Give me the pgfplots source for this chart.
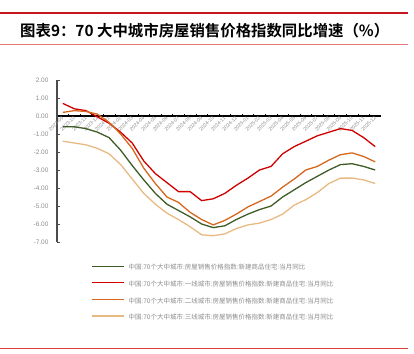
\documentclass[border=0pt]{standalone}
\usepackage{fontspec}
\setmainfont{Liberation Sans}
\newfontfamily\cjk{Noto Sans CJK SC}[BoldFont={* Bold}]
\usepackage{pgfplots}
\usepackage{pgfplotstable}
\pgfplotsset{compat=1.18}
\definecolor{cgreen}{RGB}{62,92,38}
\definecolor{cred}{RGB}{208,0,0}
\definecolor{corange}{RGB}{214,104,30}
\definecolor{ctan}{RGB}{232,186,130}
\definecolor{lblgray}{RGB}{140,140,140}
\definecolor{topred}{RGB}{200,20,30}
\definecolor{pinkline}{RGB}{232,120,120}
\definecolor{botred}{RGB}{222,60,60}
\pgfplotstableread{
i g r o t
0 -0.6 0.7 0.2 -1.4
1 -0.6 0.4 0.3 -1.5
2 -0.7 0.3 0.25 -1.6
3 -0.9 -0.05 0.1 -1.8
4 -1.2 -0.4 -0.35 -2.1
5 -1.9 -0.9 -1.0 -2.7
6 -2.75 -1.5 -1.8 -3.5
7 -3.55 -2.5 -2.9 -4.3
8 -4.3 -3.2 -3.75 -4.9
9 -4.9 -3.7 -4.5 -5.4
10 -5.25 -4.2 -4.8 -5.75
11 -5.6 -4.2 -5.35 -6.15
12 -6.0 -4.7 -5.75 -6.6
13 -6.2 -4.6 -6.05 -6.65
14 -6.1 -4.3 -5.8 -6.55
15 -5.75 -3.85 -5.45 -6.25
16 -5.45 -3.45 -5.05 -6.05
17 -5.2 -3.0 -4.75 -5.95
18 -5.0 -2.8 -4.45 -5.75
19 -4.5 -2.1 -3.95 -5.45
20 -4.1 -1.7 -3.5 -4.95
21 -3.7 -1.4 -3.0 -4.65
22 -3.35 -1.1 -2.8 -4.25
23 -3.0 -0.9 -2.45 -3.75
24 -2.7 -0.7 -2.15 -3.45
25 -2.65 -0.8 -2.05 -3.45
26 -2.8 -1.2 -2.25 -3.55
27 -3.0 -1.7 -2.55 -3.75
}\data
\begin{document}
\begin{tikzpicture}
\useasboundingbox (0pt,0pt) rectangle (414pt,-353pt);
\draw[topred, line width=2pt] (0pt,-13pt) -- (408pt,-13pt);
\draw[pinkline, line width=0.8pt] (0pt,-44.5pt) -- (408pt,-44.5pt);
\draw[botred, line width=0.8pt] (0pt,-348pt) -- (408pt,-348pt);
\node[anchor=west, inner sep=0pt] at (20pt,-31pt) {\cjk\bfseries\fontsize{15.4}{18}\selectfont 图表9：70 大中城市房屋销售价格指数同比增速（\%）};
\begin{axis}[
  at={(57pt,-242pt)}, anchor=south west,
  scale only axis, width=324pt, height=162pt,
  xmin=-0.5, xmax=27.5, ymin=-7, ymax=2,
  axis x line=middle, axis y line=left,
  axis line style={-},
  x axis line style={black, line width=1.2pt},
  y axis line style={black!70, line width=1.2pt},
  hide obscured x ticks=false,
  tick align=inside,
  major tick length=2.5pt, minor tick length=2.5pt,
  xtick={0,...,27},
  minor xtick={0.5,1.5,...,26.5},
  major x tick style={draw=none},
  minor x tick style={black, line width=0.6pt},
  xticklabels={2023-09,2023-10,2023-11,2023-12,2024-01,2024-02,2024-03,2024-04,2024-05,2024-06,2024-07,2024-08,2024-09,2024-10,2024-11,2024-12,2025-01,2025-02,2025-03,2025-04,2025-05,2025-06,2025-07,2025-08,2025-09,2025-10,2025-11,2025-12},
  xticklabel style={rotate=45, anchor=east, font=\fontsize{5}{6}\selectfont, text=lblgray, inner sep=1pt, yshift=-1pt},
  ytick={-7,...,2},
  y tick style={black!70, line width=0.6pt},
  /pgf/number format/assume math mode=true,
  yticklabel style={/pgf/number format/fixed, /pgf/number format/fixed zerofill, /pgf/number format/precision=2, font=\fontsize{6.5}{7}\selectfont, text=lblgray, xshift=-5pt},
  legend cell align=left,
  legend image code/.code={\draw[#1] (0pt,1.8pt) -- (32pt,1.8pt);},
  legend style={at={(0.105,-0.14)}, anchor=north west, draw=none, fill=none, inner sep=0pt, row sep=10.3pt,
    nodes={inner sep=0pt, text height=5pt, text depth=1.3pt, font=\cjk\fontsize{6.5}{7}\selectfont, text=lblgray},
    /tikz/every odd column/.append style={column sep=4pt}},
]
\addplot[cgreen, line width=1.3pt] table[x=i, y=g] {\data};
\addlegendentry{中国:70个大中城市:房屋销售价格指数:新建商品住宅:当月同比}
\addplot[cred, line width=1.3pt] table[x=i, y=r] {\data};
\addlegendentry{中国:70个大中城市:一线城市:房屋销售价格指数:新建商品住宅:当月同比}
\addplot[corange, line width=1.3pt] table[x=i, y=o] {\data};
\addlegendentry{中国:70个大中城市:二线城市:房屋销售价格指数:新建商品住宅:当月同比}
\addplot[ctan, line width=1.3pt] table[x=i, y=t] {\data};
\addlegendentry{中国:70个大中城市:三线城市:房屋销售价格指数:新建商品住宅:当月同比}
\end{axis}
\end{tikzpicture}
\end{document}
